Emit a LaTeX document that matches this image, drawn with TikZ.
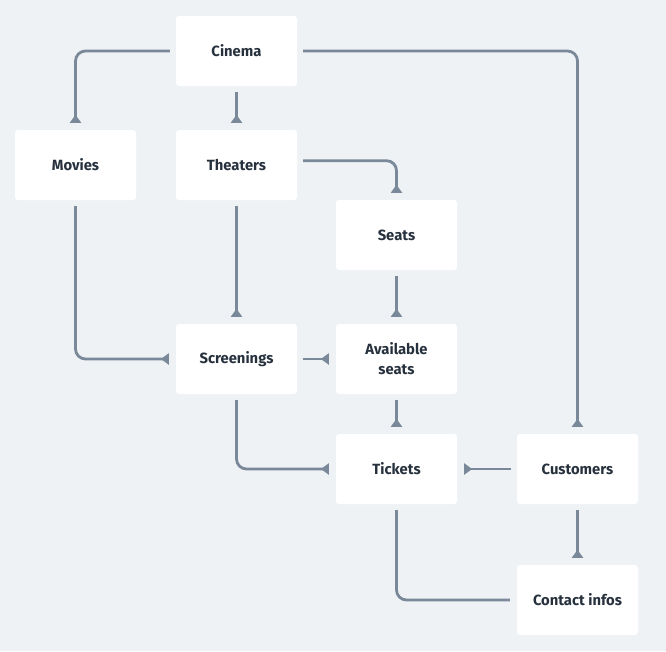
\documentclass[tikz,border=0pt]{standalone}
\usepackage{fontspec}
\setmainfont{Fira Sans}
\usetikzlibrary{arrows.meta}
\definecolor{bgc}{HTML}{EFF2F5}
\definecolor{linec}{HTML}{7A8999}
\definecolor{textc}{HTML}{27313D}
\tikzset{
  ent/.style={fill=white, rounded corners=3pt, minimum width=121pt, minimum height=70pt,
    inner sep=0pt, align=center, text=textc, font=\fontsize{14.8}{20}\selectfont\bfseries},
  conn/.style={draw=linec, line width=2.8pt, rounded corners=10pt, shorten <=6pt},
  arr/.style={conn, shorten >=7pt, -{Triangle[reversed, length=8pt, width=11pt]}},
  plain/.style={conn, shorten >=7pt}
}
\begin{document}
\begin{tikzpicture}[x=1pt, y=-1pt]
\fill[bgc] (0,0) rectangle (666,651);
\useasboundingbox (0,0) rectangle (666,651);
\node[ent] (cin) at (236.5,51) {Cinema};
\node[ent] (mov) at (75.5,165) {Movies};
\node[ent] (the) at (236.5,165) {Theaters};
\node[ent] (sea) at (396.5,235) {Seats};
\node[ent] (scr) at (236.5,359) {Screenings};
\node[ent] (ava) at (396.5,359) {Available\\seats};
\node[ent] (tic) at (396.5,469) {Tickets};
\node[ent] (cus) at (577.5,469) {Customers};
\node[ent] (con) at (577.5,600) {Contact infos};

\draw[arr] (cin.west) -| (mov.north);
\draw[arr] (cin.south) -- (the.north);
\draw[arr] (cin.east) -| (cus.north);
\draw[arr] ([yshift=4.3pt]the.east) -| (sea.north);
\draw[arr] (the.south) -- (scr.north);
\draw[arr] (mov.south) |- (scr.west);
\draw[arr] (sea.south) -- (ava.north);
\draw[arr] (scr.east) -- (ava.west);
\draw[arr] (ava.south) -- (tic.north);
\draw[arr] (scr.south) |- (tic.west);
\draw[arr] (cus.west) -- (tic.east);
\draw[arr] (cus.south) -- (con.north);
\draw[plain] (tic.south) |- (con.west);
\end{tikzpicture}
\end{document}
